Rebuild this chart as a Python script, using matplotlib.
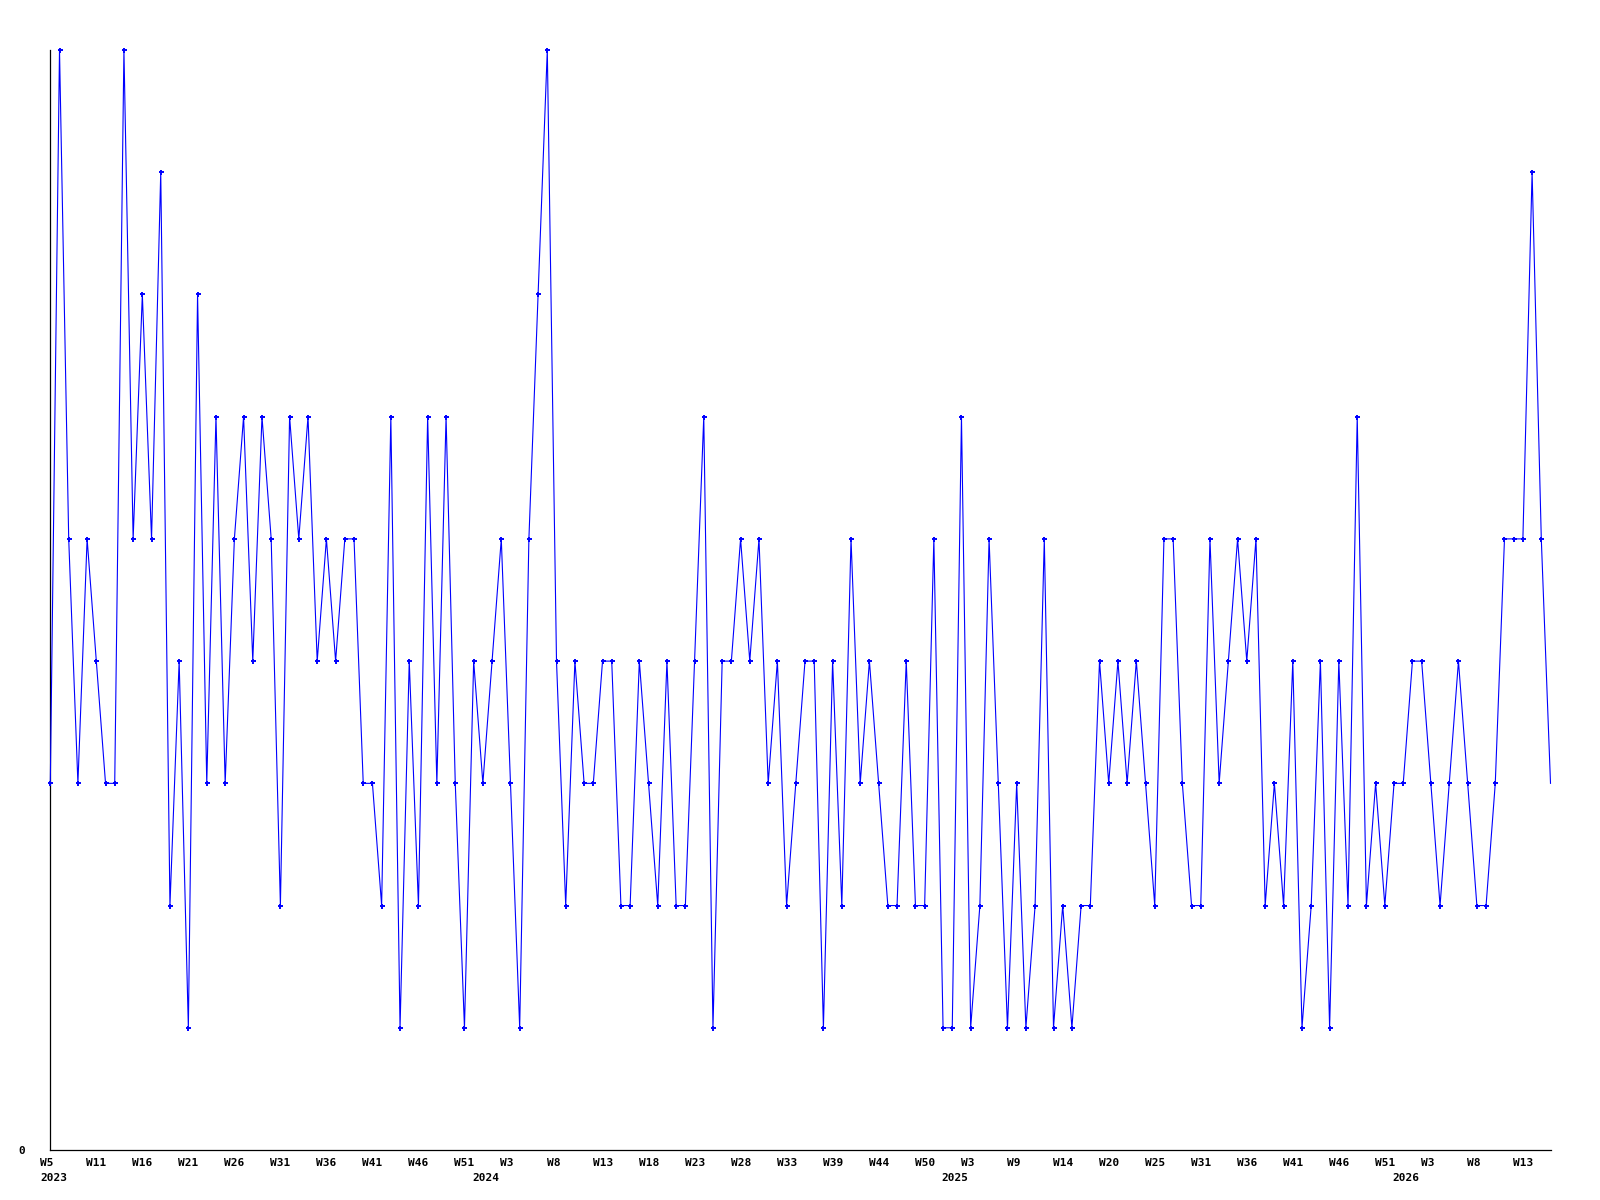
import matplotlib
matplotlib.use("Agg")
import matplotlib.pyplot as plt
import matplotlib.transforms as mtransforms
import numpy as np

# Weekly values, 2023 W5 onwards
values = [
    3, 9, 5, 3, 5, 4, 3, 3, 9, 5,
    7, 5, 8, 2, 4, 1, 7, 3, 6, 3,
    5, 6, 4, 6, 5, 2, 6, 5, 6, 4,
    5, 4, 5, 5, 3, 3, 2, 6, 1, 4,
    2, 6, 3, 6, 3, 1, 4, 3, 4, 5,
    3, 1, 5, 7, 9, 4, 2, 4, 3, 3,
    4, 4, 2, 2, 4, 3, 2, 4, 2, 2,
    4, 6, 1, 4, 4, 5, 4, 5, 3, 4,
    2, 3, 4, 4, 1, 4, 2, 5, 3, 4,
    3, 2, 2, 4, 2, 2, 5, 1, 1, 6,
    1, 2, 5, 3, 1, 3, 1, 2, 5, 1,
    2, 1, 2, 2, 4, 3, 4, 3, 4, 3,
    2, 5, 5, 3, 2, 2, 5, 3, 4, 5,
    4, 5, 2, 3, 2, 4, 1, 2, 4, 1,
    4, 2, 6, 2, 3, 2, 3, 3, 4, 4,
    3, 2, 3, 4, 3, 2, 2, 3, 5, 5,
    5, 8, 5, 3,
]

week_labels = ["W5", "W11", "W16", "W21", "W26", "W31", "W36", "W41", "W46", "W51",
               "W3", "W8", "W13", "W18", "W23", "W28", "W33", "W39", "W44", "W50",
               "W3", "W9", "W14", "W20", "W25", "W31", "W36", "W41", "W46", "W51",
               "W3", "W8", "W13"]
week_step = 5  # one label every 5 points

year_labels = ["2023", "2024", "2025", "2026"]
year_starts = [0, 46.9, 97.9, 146.9]

W, H, DPI = 1600, 1200, 100
fig = plt.figure(figsize=(W / DPI, H / DPI), dpi=DPI)
fig.patch.set_facecolor("white")

left_px, right_px, top_px, bottom_px = 50.3, 1550.5, 50, 1150
ax = fig.add_axes([left_px / W, (H - bottom_px) / H,
                   (right_px - left_px) / W, (bottom_px - top_px) / H])

x = np.arange(len(values))
ax.plot(x, values, color="#0000ff", lw=0.8, marker="+", ms=3.6, mew=1.4,
        markevery=list(range(len(values) - 1)), clip_on=False, zorder=3)

ax.set_xlim(0, len(values) - 1)
ax.set_ylim(0, max(values))

for s in ["top", "right"]:
    ax.spines[s].set_visible(False)
for s in ["left", "bottom"]:
    ax.spines[s].set_color("black")
    ax.spines[s].set_linewidth(0.9)

ax.set_xticks([])
ax.set_yticks([])

font = dict(family="DejaVu Sans Mono", weight="bold", size=8, color="black")

blend = mtransforms.blended_transform_factory(ax.transData, ax.transAxes)

def px_offset(dx, dy):
    return mtransforms.ScaledTranslation(dx / DPI, dy / DPI, fig.dpi_scale_trans)

wk_tr = blend + px_offset(-10, -16)
for k, lab in enumerate(week_labels):
    ax.text(k * week_step, 0, lab, transform=wk_tr, ha="left", va="baseline",
            clip_on=False, **font)

yr_tr = blend + px_offset(-10, -31)
for pos, lab in zip(year_starts, year_labels):
    ax.text(pos, 0, lab, transform=yr_tr, ha="left", va="baseline",
            clip_on=False, **font)

ax.text(0, 0, "0", transform=ax.transData + px_offset(-25, -3.7),
        ha="right", va="baseline", clip_on=False, **font)

fig.savefig("out.png", dpi=DPI, facecolor="white")
